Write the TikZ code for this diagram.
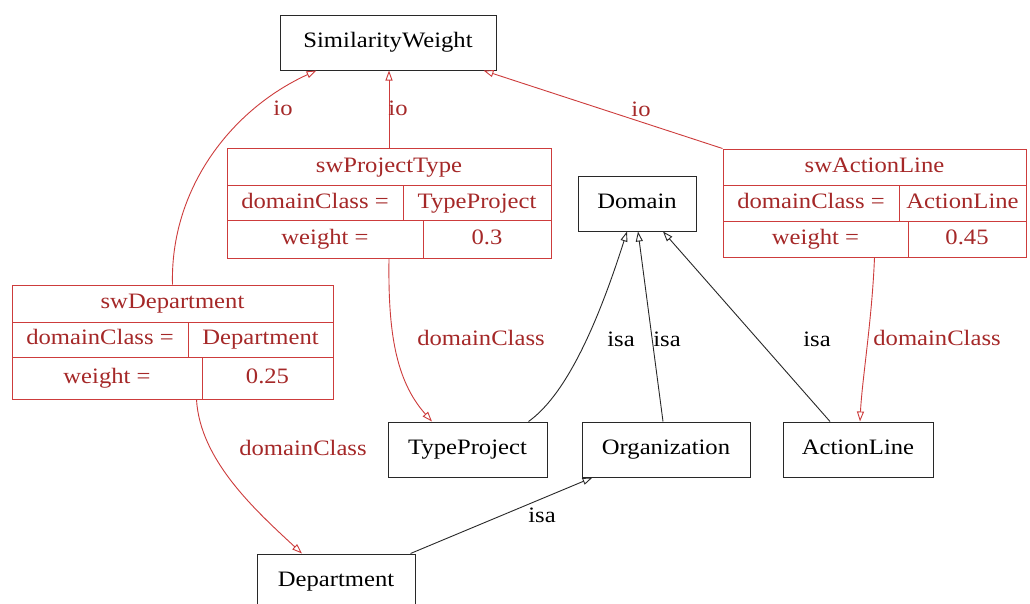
\documentclass[tikz,border=0pt]{standalone}
\usepackage{fontspec}
\setmainfont{Liberation Serif}[FakeStretch=1.12]
\usetikzlibrary{arrows.meta}
\definecolor{lred}{RGB}{205,60,60}
\definecolor{tred}{RGB}{165,40,40}
\definecolor{bline}{RGB}{40,40,40}
\begin{document}
\begin{tikzpicture}[x=1pt,y=-1pt,
  font=\fontsize{22}{26}\selectfont,
  every node/.style={text height=14pt, text depth=4pt},
  box/.style={draw=bline, line width=1pt, inner sep=0pt, minimum height=55pt},
  rec/.style={draw=lred, line width=1pt, inner sep=0pt},
  rtext/.style={text=tred, inner sep=0pt, anchor=center},
  rline/.style={draw=lred, line width=1pt},
  redge/.style={draw=lred, line width=0.9pt, -{Triangle[open,length=10pt,width=7pt]}},
  bedge/.style={draw=bline, line width=0.9pt, -{Triangle[open,length=10pt,width=7pt]}},
  rlab/.style={inner sep=0pt, text=tred},
  blab/.style={inner sep=0pt, text=black},
]
\useasboundingbox (0,0) rectangle (1030,603);
\clip (0,0) rectangle (1030,603);
\fill[white] (0,0) rectangle (1030,603);

% plain boxes
\node[box, minimum width=216pt] (sw) at (388,42.5) {SimilarityWeight};
\node[box, minimum width=118pt] (dom) at (637,203.5) {Domain};
\node[box, minimum width=159pt] (tp) at (467.5,449.5) {TypeProject};
\node[box, minimum width=168pt] (org) at (666,449.5) {Organization};
\node[box, minimum width=150pt] (al) at (858,449.5) {ActionLine};
\node[box, minimum width=158pt] (dep) at (336,581.5) {Department};

% record swProjectType: x 227-551, y 148-258
\node[rec, minimum width=324pt, minimum height=110pt] (spt) at (389,203) {};
\draw[rline] (227,185) -- (551,185);
\draw[rline] (227,220) -- (551,220);
\draw[rline] (403,185) -- (403,220);
\draw[rline] (423,220) -- (423,258);
\node[rtext] (spt1) at (389,167) {swProjectType};
\node[rtext] (spt2) at (315,203) {domainClass =};
\node[rtext] (spt3) at (477,203) {TypeProject};
\node[rtext] (spt4) at (325,239.5) {weight =};
\node[rtext] (spt5) at (487,239.5) {0.3};

% record swDepartment: x 12-333, y 285-399
\node[rec, minimum width=321pt, minimum height=114pt] (sd) at (172.5,342) {};
\draw[rline] (12,322) -- (333,322);
\draw[rline] (12,357) -- (333,357);
\draw[rline] (188,322) -- (188,357);
\draw[rline] (202,357) -- (202,399);
\node[rtext] (sd1) at (172.5,303.5) {swDepartment};
\node[rtext] (sd2) at (100,339.5) {domainClass =};
\node[rtext] (sd3) at (260.5,339.5) {Department};
\node[rtext] (sd4) at (107,378) {weight =};
\node[rtext] (sd5) at (267.5,378) {0.25};

% record swActionLine: x 723-1026, y 149-257
\node[rec, minimum width=303pt, minimum height=108pt] (sal) at (874.5,203) {};
\draw[rline] (723,185) -- (1026,185);
\draw[rline] (723,221) -- (1026,221);
\draw[rline] (899,185) -- (899,221);
\draw[rline] (908,221) -- (908,257);
\node[rtext] (sal1) at (874.5,167) {swActionLine};
\node[rtext] (sal2) at (811,203) {domainClass =};
\node[rtext] (sal3) at (962.5,203) {ActionLine};
\node[rtext] (sal4) at (815.5,239) {weight =};
\node[rtext] (sal5) at (967,239) {0.45};

% io edges
\draw[redge] (sd.north) .. controls (170,190) and (230,110) .. ([xshift=37pt]sw.south west);
\draw[redge] (spt.north) -- (sw.south -| spt.north);
\draw[redge] (sal.north west) -- ([xshift=-13pt]sw.south east);
\node[rlab] (io1) at (283,110) {io};
\node[rlab] (io2) at (398,110) {io};
\node[rlab] (io3) at (641,111) {io};

% domainClass edges
\draw[redge] (spt.south) .. controls (388,330) and (395,380) .. ([xshift=-35.5pt]tp.north);
\draw[redge] ([xshift=24pt]sd.south) .. controls (200,460) and (255,510) .. ([xshift=-34pt]dep.north);
\draw[redge] (sal.south) .. controls (872,320) and (862,380) .. ([xshift=2pt]al.north);
\node[rlab] (dc1) at (481,340) {domainClass};
\node[rlab] (dc2) at (303,450) {domainClass};
\node[rlab] (dc3) at (937,340) {domainClass};

% isa edges
\draw[bedge] ([xshift=-19pt]tp.north east) .. controls (570,392) and (602,310) .. ([xshift=-10pt]dom.south);
\draw[bedge] ([xshift=-3pt]org.north) -- ([xshift=1pt]dom.south);
\draw[bedge] ([xshift=-28pt]al.north) -- ([xshift=26pt]dom.south);
\draw[bedge] ([xshift=-5pt]dep.north east) -- ([xshift=11pt]org.south west);
\node[blab] (isa1) at (621,341) {isa};
\node[blab] (isa2) at (667,341) {isa};
\node[blab] (isa3) at (817,341) {isa};
\node[blab] (isa4) at (542,517) {isa};
\end{tikzpicture}
\end{document}
